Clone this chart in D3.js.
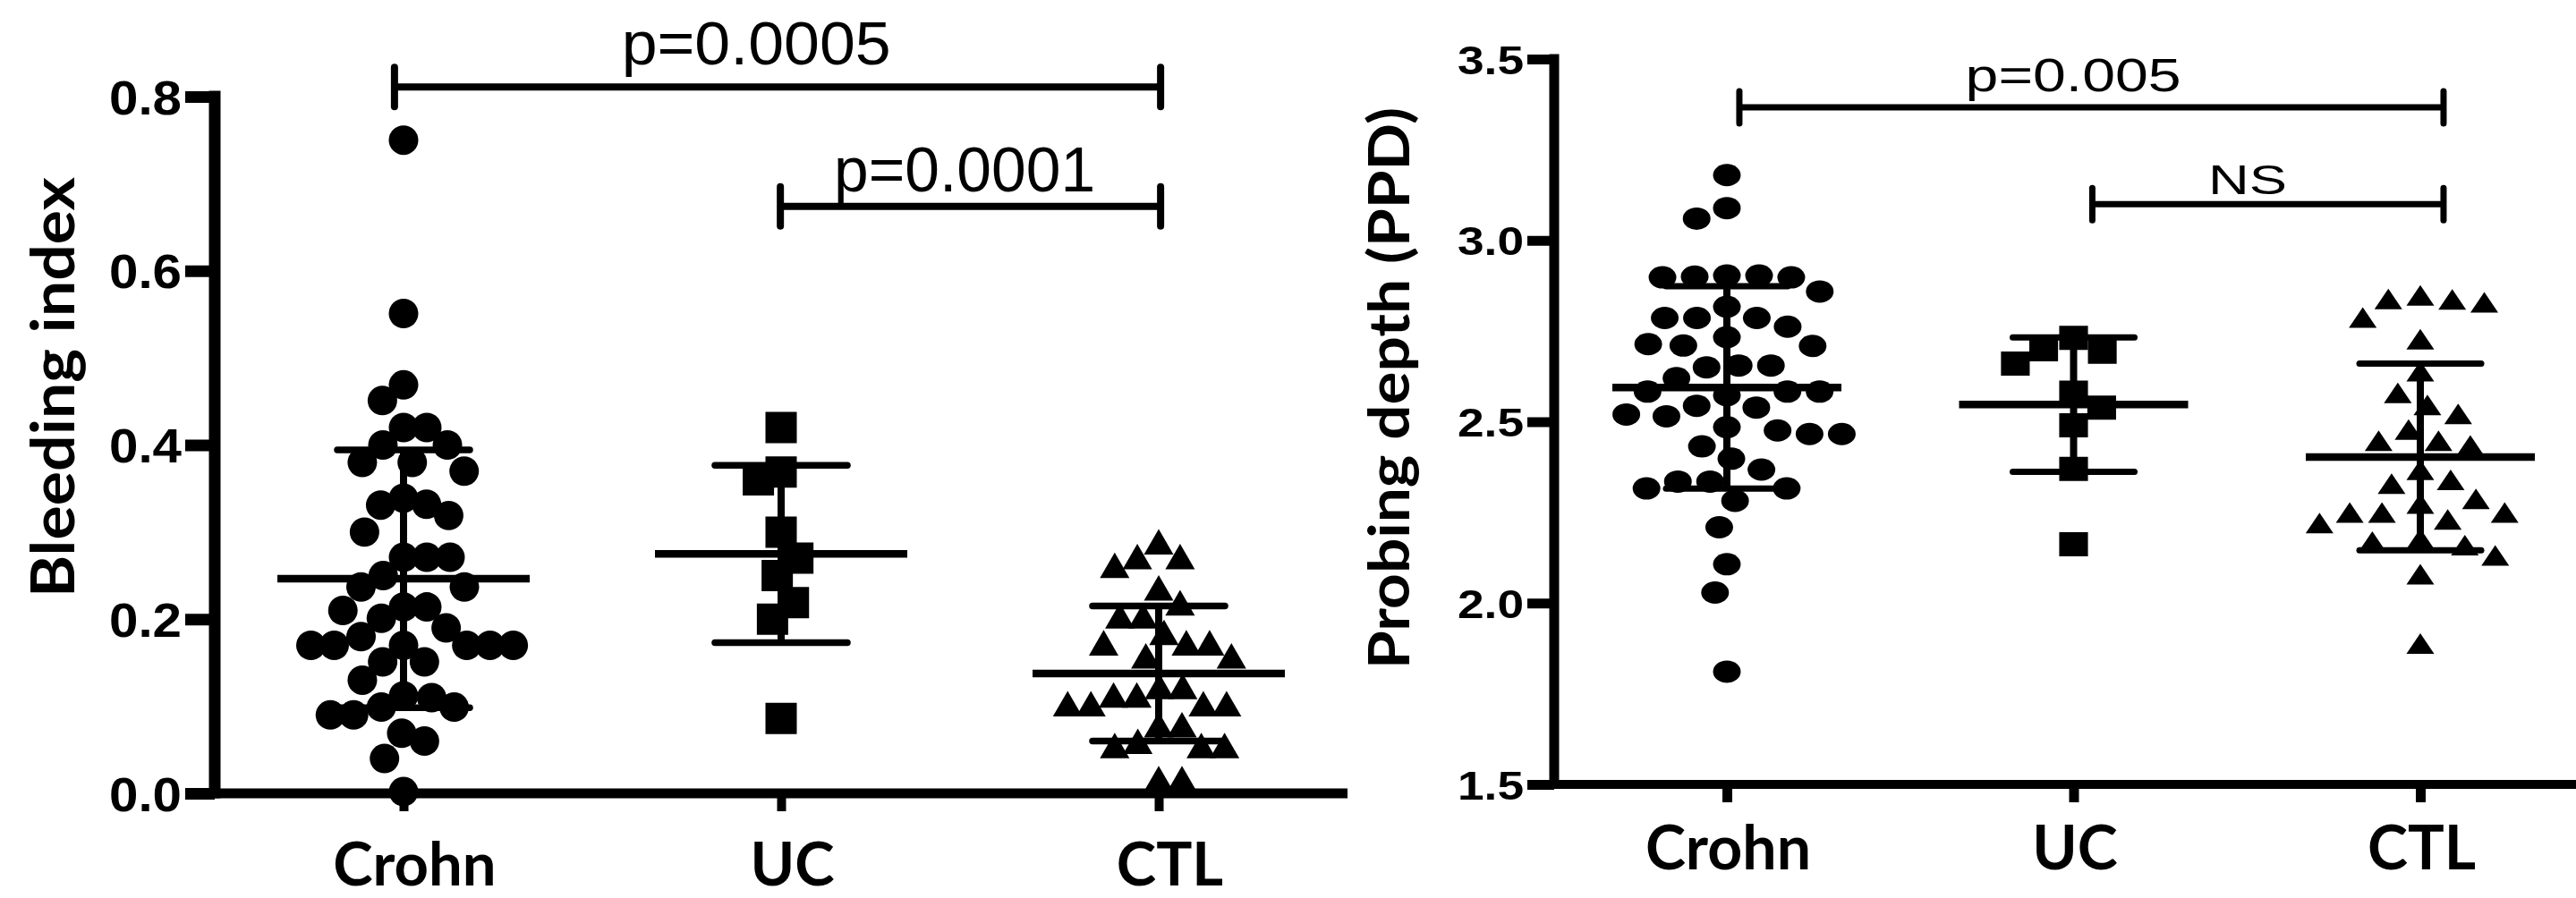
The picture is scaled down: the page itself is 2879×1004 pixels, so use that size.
<!DOCTYPE html>
<html><head><meta charset="utf-8">
<script src="https://cdn.jsdelivr.net/npm/d3@7"></script>
<style>html,body{margin:0;padding:0;background:#fff;}svg{display:block;}</style>
</head><body>
<svg id="chart" width="2879" height="1004"></svg>
<script>
// ---------------- data ----------------
const categories = ["Crohn", "UC", "CTL"];

const bleedingCrohn = [0.750, 0.551, 0.469, 0.451, 0.420, 0.400, 0.420, 0.400, 0.380, 0.370, 0.380,
  0.332, 0.319, 0.331, 0.339, 0.300, 0.271, 0.271, 0.271, 0.250, 0.237, 0.237, 0.214, 0.214,
  0.210, 0.201, 0.190, 0.180, 0.170, 0.170, 0.170, 0.170, 0.170, 0.170, 0.151, 0.151, 0.130,
  0.112, 0.110, 0.099, 0.099, 0.090, 0.090, 0.069, 0.060, 0.040, 0.002];
const bleedingUC = [0.420, 0.360, 0.369, 0.300, 0.270, 0.250, 0.219, 0.200, 0.086];
const bleedingCTL = [0.284, 0.267, 0.267, 0.257, 0.231, 0.214, 0.199, 0.199, 0.180, 0.168, 0.168,
  0.168, 0.153, 0.153, 0.118, 0.118, 0.108, 0.108, 0.098, 0.098, 0.098, 0.098, 0.074, 0.074,
  0.055, 0.050, 0.050, 0.050, 0.012, 0.012];

const probingCrohn = [3.180, 3.089, 3.060, 2.903, 2.903, 2.898, 2.900, 2.898, 2.859, 2.786, 2.786,
  2.762, 2.786, 2.817, 2.733, 2.714, 2.709, 2.710, 2.655, 2.650, 2.655, 2.620, 2.583, 2.583,
  2.573, 2.583, 2.544, 2.539, 2.515, 2.520, 2.485, 2.466, 2.466, 2.476, 2.432, 2.398, 2.368,
  2.335, 2.316, 2.316, 2.335, 2.282, 2.209, 2.107, 2.029, 1.811];
const probingUC = [2.731, 2.693, 2.700, 2.660, 2.580, 2.539, 2.490, 2.370, 2.162];
const probingCTL = [2.828, 2.820, 2.829, 2.839, 2.778, 2.718, 2.630, 2.570, 2.537, 2.512, 2.469,
  2.438, 2.425, 2.438, 2.358, 2.330, 2.320, 2.278, 2.265, 2.240, 2.240, 2.240, 2.221, 2.211,
  2.160, 2.168, 2.150, 2.122, 2.070, 1.879];

const bleedingTicks = [0.0, 0.2, 0.4, 0.6, 0.8];
const probingTicks = [1.5, 2.0, 2.5, 3.0, 3.5];

const bleedingTitle = "Bleeding index";
const probingTitle = "Probing depth (PPD)";

// comparison brackets (category index / value units)
const bleedingBrackets = [
  {from: -0.024, to: 2.005, level: 0.811, label: "p=0.0005", labelAt: 0.934, labelLevel: 0.837},
  {from: 0.998, to: 2.005, level: 0.674, label: "p=0.0001", labelAt: 1.486, labelLevel: 0.691}
];
const probingBrackets = [
  {from: 0.036, to: 2.067, level: 3.367, label: "p=0.005", labelAt: 0.999, labelLevel: 3.411},
  {from: 1.054, to: 2.067, level: 3.100, label: "NS", labelAt: 1.502, labelLevel: 3.128}
];

// ---------------- layout / style ----------------
const svg = d3.select("#chart");
const shapes = [d3.symbolCircle, d3.symbolSquare, d3.symbolTriangle];

const panels = [
  {
    groups: [bleedingCrohn, bleedingUC, bleedingCTL], ticks: bleedingTicks, title: bleedingTitle,
    brackets: bleedingBrackets, domain: [0, 0.8],
    axisX: 240, top: 108, bottom: 887, xEnd: 1506, catRange: [451, 1295],
    yAxisW: 13, xAxisW: 11, yTickLen: 33, yTickW: 13, tickPad: 4, tickFont: 54, tickTextLen: 81, tickDy: 19,
    xTickLen: 20, xTickW: 10, labelBaseline: 990, labelFont: 67, labelDx: 12,
    titleX: 83, titleY: 433, titleFont: 67, titleLen: 470,
    symSizes: [855, 1225, 472], symScale: [1, 1, 1], swarmAx: 26, swarmAy: 42,
    meanHalf: 141, capHalf: 74, meanW: 8.5, vW: 8, capW: 7.5,
    brW: 8, brEnd: 22, pFonts: [68, 70], pLens: [301, 292]
  },
  {
    groups: [probingCrohn, probingUC, probingCTL], ticks: probingTicks, title: probingTitle,
    brackets: probingBrackets, domain: [1.5, 3.5],
    axisX: 1737, top: 66, bottom: 877, xEnd: 2879, catRange: [1930, 2705],
    yAxisW: 11, xAxisW: 10, yTickLen: 30, yTickW: 11, tickPad: 4, tickFont: 45, tickTextLen: 74, tickDy: 16,
    xTickLen: 20, xTickW: 11, labelBaseline: 972, labelFont: 68, labelDx: 1,
    titleX: 1575, titleY: 434, titleFont: 64, titleLen: 628,
    symSizes: [490, 729, 305], symScale: [1.24, 1.19, 1.17], swarmAx: 36, swarmAy: 34,
    meanHalf: 128, capHalf: 68, meanW: 8.5, vW: 8, capW: 7,
    brW: 7, brEnd: 18, pFonts: [52, 47], pLens: [241, 88]
  }
];

// beeswarm offsets (in pixels) computed from the values and the y scale
function swarm(values, y, ax, ay) {
  const order = d3.range(values.length).sort((a, b) => values[b] - values[a] || a - b);
  const placed = [];
  const offs = new Array(values.length).fill(0);
  let flip = 1;
  for (const i of order) {
    const py = y(values[i]);
    const iv = [];
    for (const p of placed) {
      const dy = Math.abs(p.y - py);
      if (dy < ay) {
        const w = ax * Math.sqrt(1 - (dy / ay) * (dy / ay));
        iv.push([p.x - w, p.x + w]);
      }
    }
    const cands = [0];
    iv.forEach(([a, b]) => cands.push(a, b));
    cands.sort((a, b) => (Math.abs(a) - Math.abs(b)) || (flip * (a - b)));
    let chosen = 0;
    for (const c of cands) {
      if (iv.every(([a, b]) => c <= a + 1e-6 || c >= b - 1e-6)) { chosen = c; break; }
    }
    if (chosen !== 0) flip = -flip;
    offs[i] = chosen;
    placed.push({x: chosen, y: py});
  }
  return offs;
}

panels.forEach(P => {
  const g = svg.append("g");
  const y = d3.scaleLinear().domain(P.domain).range([P.bottom, P.top]);
  const x = d3.scalePoint().domain(categories).range(P.catRange);
  const xi = d3.scaleLinear().domain([0, categories.length - 1]).range(P.catRange);

  // y axis (ticks + labels from d3 axis)
  const yAxis = d3.axisLeft(y).tickValues(P.ticks).tickFormat(d3.format(".1f"))
    .tickSize(P.yTickLen).tickSizeOuter(0).tickPadding(P.tickPad);
  const gy = g.append("g").attr("transform", `translate(${P.axisX},0)`).call(yAxis);
  gy.select(".domain").remove();
  gy.selectAll(".tick line").attr("stroke", "#000").attr("stroke-width", P.yTickW);
  gy.selectAll(".tick text")
    .attr("font-family", "'Liberation Sans', Arial, sans-serif").attr("font-weight", "bold")
    .attr("font-size", P.tickFont).attr("fill", "#000")
    .attr("dy", null).attr("y", P.tickDy)
    .attr("textLength", P.tickTextLen).attr("lengthAdjust", "spacingAndGlyphs");

  // x axis ticks + labels
  const xAxis = d3.axisBottom(x).tickSize(P.xTickLen).tickSizeOuter(0);
  const gx = g.append("g").attr("transform", `translate(0,${P.bottom})`).call(xAxis);
  gx.select(".domain").remove();
  gx.selectAll(".tick line").attr("stroke", "#000").attr("stroke-width", P.xTickW);
  gx.selectAll(".tick text")
    .attr("font-family", "Lato, 'Open Sans', sans-serif").attr("font-weight", "bold")
    .attr("font-size", P.labelFont).attr("fill", "#000")
    .attr("dy", null).attr("y", P.labelBaseline - P.bottom).attr("dx", P.labelDx);

  // axis lines
  g.append("line").attr("x1", P.axisX).attr("x2", P.axisX)
    .attr("y1", y(P.domain[1]) - P.yTickW / 2).attr("y2", P.bottom + P.xAxisW / 2)
    .attr("stroke", "#000").attr("stroke-width", P.yAxisW);
  g.append("line").attr("x1", P.axisX - P.yAxisW / 2).attr("x2", P.xEnd)
    .attr("y1", P.bottom).attr("y2", P.bottom)
    .attr("stroke", "#000").attr("stroke-width", P.xAxisW);

  // axis title
  g.append("text").text(P.title)
    .attr("transform", `translate(${P.titleX},${P.titleY}) rotate(-90)`)
    .attr("text-anchor", "middle")
    .attr("font-family", "Lato, 'Open Sans', sans-serif").attr("font-weight", "bold")
    .attr("font-size", P.titleFont).attr("fill", "#000")
    .attr("textLength", P.titleLen).attr("lengthAdjust", "spacingAndGlyphs");

  // points
  P.groups.forEach((vals, gi) => {
    const cx = x(categories[gi]);
    const offs = swarm(vals, y, P.swarmAx, P.swarmAy);
    const sym = d3.symbol().type(shapes[gi]).size(P.symSizes[gi]);
    g.append("g").selectAll("path").data(vals).join("path")
      .attr("d", sym)
      .attr("transform", (d, i) => `translate(${cx + offs[i]},${y(d)}) scale(${P.symScale[gi]},1)`)
      .attr("fill", "#000");
  });

  // mean ± SD
  P.groups.forEach((vals, gi) => {
    const cx = x(categories[gi]);
    const m = d3.mean(vals), s = d3.deviation(vals);
    const eg = g.append("g").attr("stroke", "#000");
    eg.append("line").attr("x1", cx).attr("x2", cx).attr("y1", y(m - s)).attr("y2", y(m + s)).attr("stroke-width", P.vW);
    [m - s, m + s].forEach(v => eg.append("line")
      .attr("x1", cx - P.capHalf).attr("x2", cx + P.capHalf).attr("y1", y(v)).attr("y2", y(v))
      .attr("stroke-width", P.capW).attr("stroke-linecap", "round"));
    eg.append("line").attr("x1", cx - P.meanHalf).attr("x2", cx + P.meanHalf)
      .attr("y1", y(m)).attr("y2", y(m)).attr("stroke-width", P.meanW);
  });

  // brackets
  P.brackets.forEach((b, bi) => {
    const bg = g.append("g").attr("stroke", "#000").attr("stroke-width", P.brW);
    const x1 = xi(b.from), x2 = xi(b.to), yy = y(b.level);
    bg.append("line").attr("x1", x1).attr("x2", x2).attr("y1", yy).attr("y2", yy);
    [x1, x2].forEach(xx => bg.append("line").attr("x1", xx).attr("x2", xx)
      .attr("y1", yy - P.brEnd).attr("y2", yy + P.brEnd).attr("stroke-linecap", "round"));
    g.append("text").text(b.label)
      .attr("x", xi(b.labelAt)).attr("y", y(b.labelLevel))
      .attr("text-anchor", "middle")
      .attr("font-family", "'Liberation Sans', Arial, sans-serif")
      .attr("font-size", P.pFonts[bi]).attr("fill", "#000")
      .attr("textLength", P.pLens[bi]).attr("lengthAdjust", "spacingAndGlyphs");
  });
});
</script>
</body></html>
